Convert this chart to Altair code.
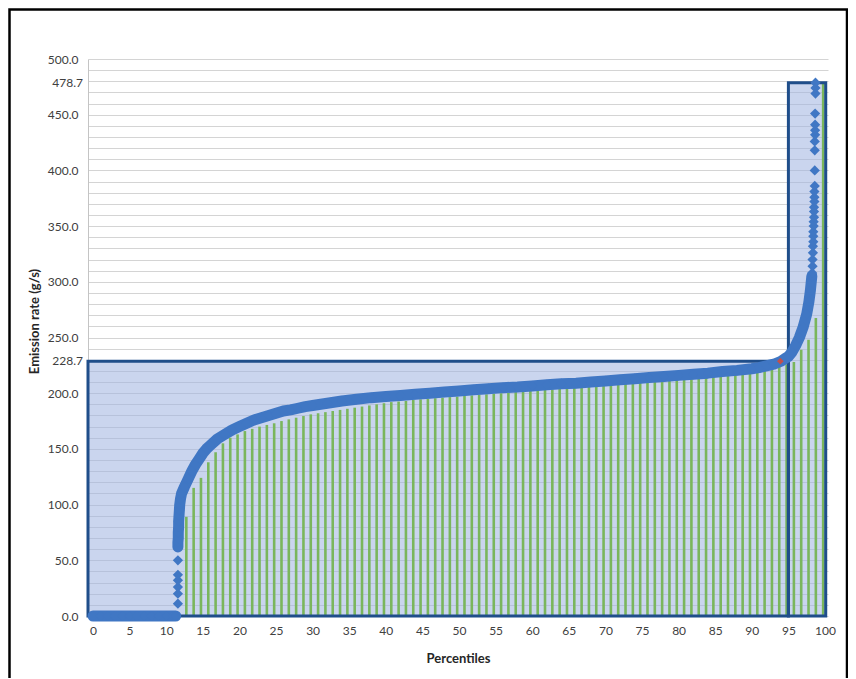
import altair as alt
import pandas as pd

# ---------------- data ----------------
curve_pct = [0, 1, 2, 3, 4, 5, 6, 7, 8, 9, 10, 11, 11.3,
             11.6, 11.6, 11.6, 11.6, 11.6, 11.6,
             11.6, 11.6, 11.65, 11.65, 11.7, 11.7, 11.75, 11.8, 11.85, 11.95, 12.1,
             12.5, 13, 13.5, 14, 14.5, 15, 15.5, 16, 17, 18, 19, 20, 21, 22, 23, 24,
             25, 26, 27, 28, 29, 30, 32, 34, 36, 38, 40, 42, 44, 46, 48, 50, 52, 54,
             56, 58, 60, 62, 64, 66, 68, 70, 72, 74, 76, 78, 80, 82, 84, 86, 88, 90,
             91, 92, 93, 94, 94.5, 95, 95.5, 96, 96.5, 97, 97.5, 97.8, 98, 98.2,
             98.25, 98.3, 98.3, 98.35, 98.35, 98.4, 98.4, 98.4, 98.45, 98.45, 98.5,
             98.5, 98.5, 98.55, 98.55, 98.55, 98.6, 98.6, 98.6, 98.6, 98.65, 98.65,
             98.65, 98.65, 98.7, 98.7, 98.7]
curve_val = [0, 0, 0, 0, 0, 0, 0, 0, 0, 0, 0, 0, 0,
             11, 20, 26, 32, 37, 50,
             62, 66, 70, 75, 80, 85, 90, 95, 100, 105, 110,
             116, 123, 130, 136, 141, 146, 150, 153, 159, 163, 167, 170, 173, 176, 178, 180,
             182, 184, 185, 186.5, 188, 189, 191, 193, 194.5, 196, 197, 198, 199, 200, 201, 202, 203, 204,
             205, 205.5, 206.5, 207.5, 208.5, 209, 210, 211, 212, 213, 214, 215, 216, 217, 218, 219.5, 220.5, 222,
             223, 224.5, 226, 228.7, 231, 233, 237, 243, 250, 259, 271, 282, 292, 305,
             308, 314, 320, 326, 332, 336, 341, 345, 350, 354, 358,
             363, 367, 372, 376, 381, 386, 400, 418, 426, 432, 436,
             441, 451, 469, 474, 478.7]

bar_pct = list(range(13, 101))
bar_val = [89, 115, 124, 138, 147, 155, 160, 163, 166, 168,
           170, 171.5, 173, 175, 176.5, 178, 179.5, 181, 182, 183,
           184, 185, 186, 187, 188, 189, 190, 191, 192, 192.5,
           193, 194, 194.5, 195, 195.5, 196, 196.5, 197, 197.5, 198,
           198.5, 199, 199.5, 200, 200.5, 201, 201.5, 202, 202.5, 203,
           203.5, 204, 204.5, 205, 205.5, 206, 206.5, 207, 207.5, 208,
           208.5, 209, 209.5, 210, 210.5, 211, 211.5, 212, 212.5, 213,
           213.5, 214, 215, 215.5, 216, 217, 218, 219, 220, 221,
           222.5, 224, 226, 228, 239, 248, 267.5, 478.7]

box_x0 = [-0.683, 95.0]
box_x1 = [95.0, 100.1]
box_top = [228.7, 478.7]
marked_levels = [228.7, 478.7]
cross_pct = [93.9]
cross_val = [228.7]
x_ticks = list(range(0, 101, 5))
y_ticks = list(range(0, 501, 10))

# ---------------- chart ----------------
FONT = "Lato"
BLUE = "#4077c4"
GREEN = "#7ab65c"
BOX_STROKE = "#1f4e8a"

curve = pd.DataFrame({"p": curve_pct, "v": curve_val})
curve["i"] = range(len(curve))
bars = pd.DataFrame({"p": bar_pct, "v": bar_val})
boxes = pd.DataFrame({"x0": box_x0, "x1": box_x1, "top": box_top})
levels = pd.DataFrame({"v": marked_levels})
cross = pd.DataFrame({"p": cross_pct, "v": cross_val})

xs = alt.Scale(domain=[-0.683, 100.41], nice=False, zero=False)
ys = alt.Scale(domain=[0, 500], nice=False)

x_axis = alt.Axis(values=x_ticks, grid=False, ticks=False, domain=False,
                  labelFont=FONT, labelFontSize=12, labelColor="#404040",
                  labelPadding=9, labelFlush=False,
                  title="Percentiles", titleFont=FONT, titleFontSize=13,
                  titleFontWeight="bold", titleColor="#262626",
                  titleY=42, titleBaseline="middle")
y_axis = alt.Axis(values=y_ticks,
                  labelExpr="datum.value % 50 == 0 ? format(datum.value, '.1f') : ''",
                  grid=True, gridColor="#d4d4d4", gridWidth=1,
                  ticks=False, domain=True, domainColor="#c4c4c4",
                  labelFont=FONT, labelFontSize=12, labelColor="#404040",
                  labelPadding=10,
                  title="Emission rate (g/s)", titleFont=FONT, titleFontSize=13,
                  titleFontWeight="bold", titleColor="#262626",
                  titleAngle=270, titleX=-54, titleY=262,
                  titleBaseline="middle", titleAlign="center")

box_fill = alt.Chart(boxes).mark_rect(fill="#9fb3e0", opacity=0.55).encode(
    x=alt.X("x0:Q", scale=xs, axis=x_axis),
    x2="x1:Q",
    y=alt.Y("top:Q", scale=ys, axis=y_axis),
    y2=alt.datum(0),
)

bar_layer = alt.Chart(bars).transform_calculate(
    pos="datum.p - 0.25"
).mark_rule(color=GREEN, strokeWidth=2.6).encode(
    x=alt.X("pos:Q", scale=xs, axis=x_axis),
    y=alt.Y("v:Q", scale=ys, axis=y_axis),
    y2=alt.datum(0),
)

box_stroke = alt.Chart(boxes).mark_rect(fillOpacity=0, stroke=BOX_STROKE,
                                        strokeWidth=3).encode(
    x=alt.X("x0:Q", scale=xs, axis=x_axis),
    x2="x1:Q",
    y=alt.Y("top:Q", scale=ys, axis=y_axis),
    y2=alt.datum(0),
)

band = alt.Chart(curve).transform_filter(
    "datum.v == 0 || (datum.v >= 60 && datum.v <= 306)"
).transform_calculate(
    seg="datum.v == 0 ? 'flat' : 'rise'"
).mark_line(color=BLUE, strokeWidth=11, strokeJoin="round", strokeCap="round").encode(
    x=alt.X("p:Q", scale=xs, axis=x_axis),
    y=alt.Y("v:Q", scale=ys, axis=y_axis),
    detail="seg:N",
    order="i:Q",
)

points = alt.Chart(curve).mark_point(shape="diamond", filled=True, color=BLUE,
                                     size=105, opacity=1).encode(
    x=alt.X("p:Q", scale=xs, axis=x_axis),
    y=alt.Y("v:Q", scale=ys, axis=y_axis),
)

cross_pt = alt.Chart(cross).mark_point(shape="diamond", filled=True,
                                       color="#c0504d", size=45, opacity=1).encode(
    x=alt.X("p:Q", scale=xs, axis=x_axis),
    y=alt.Y("v:Q", scale=ys, axis=y_axis),
)

level_labels = alt.Chart(levels).mark_text(
    align="right", baseline="middle", dx=-5, font=FONT, fontSize=12,
    color="#404040"
).encode(
    x=alt.value(0),
    y=alt.Y("v:Q", scale=ys, axis=y_axis),
    text=alt.Text("v:Q", format=".1f"),
)

frame = alt.Chart(alt.Data(values=[{"a": 1}])).mark_rect(
    fillOpacity=0, stroke="black", strokeWidth=2.5, clip=False
).encode(
    x=alt.value(-78.5), x2=alt.value(759),
    y=alt.value(-49.5), y2=alt.value(700),
)

chart = alt.layer(
    box_fill, bar_layer, box_stroke, band, points, cross_pt, level_labels, frame
).properties(
    width=740, height=557,
    autosize=alt.AutoSizeParams(type="none"),
    padding={"left": 80, "top": 51, "right": 20, "bottom": 62},
    background="white",
).configure_view(stroke=None)

chart.save("out.html", embed_options={"renderer": "svg", "actions": False})
